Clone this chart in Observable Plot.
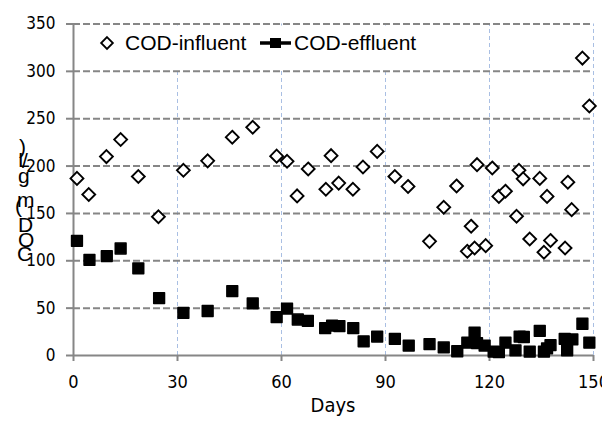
<!DOCTYPE html>
<html><head><meta charset="utf-8">
<script src="https://cdn.jsdelivr.net/npm/d3@7"></script>
<script src="https://cdn.jsdelivr.net/npm/@observablehq/plot@0.6"></script>
<style>
body{margin:0;background:#fff;}
#chart{width:602px;height:426px;}
</style></head><body><div id="chart"></div>
<script>
const infDays = [1,4.4,9.5,13.6,18.7,24.5,31.7,38.7,45.8,51.7,58.6,61.6,64.5,67.7,72.8,74.3,76.5,80.6,83.5,87.6,92.7,96.5,102.7,106.8,110.5,113.6,114.7,115.7,116.4,118.9,120.8,122.7,124.6,127.8,128.5,129.7,131.6,134.5,135.7,136.6,137.6,141.8,142.6,143.7,146.8,148.8];
const infVals = [187,170,210,228,189,146.5,195.5,205.5,230.5,241,210.5,205,168.5,197,175.5,211,182,175.5,199,215.5,189,178.5,120.5,156.5,179,110,136.5,113.5,201.5,116,198,168,173.5,147,195.5,186.5,123,187,109,168,121.5,113.5,183,154,314,263.5];
const effDays = [1,4.6,9.6,13.6,18.7,24.7,31.7,38.7,45.8,51.7,58.6,61.6,64.7,67.6,72.6,74.6,76.7,80.7,83.7,87.6,92.7,96.7,102.7,106.8,110.7,113.6,115.7,116.4,118.6,121.2,122.7,124.6,127.5,128.7,129.9,131.6,134.5,135.7,136.6,137.6,141.7,142.4,143.9,146.8,148.8];
const effVals = [121,101,105,113,92,60.5,45,47,68,55,40.5,49.5,38,36.5,29,31.5,31,29,15,20,17.5,10.5,12,8.5,4.5,13.5,24,13,10.5,4,3.5,13.5,5.5,20,19.5,4,26,4,7.5,11,17.5,5.5,17,33.5,13.5];
const xTicks = [0,30,60,90,120,150];
const yTicks = [0,50,100,150,200,250,300,350];
const seriesNames = ["COD-influent","COD-effluent"];
const xLabel = "Days";
const yLabel = "COD (mg/L)";

const influent = infDays.map((d,i)=>({day:d, cod:infVals[i]}));
const effluent = effDays.map((d,i)=>({day:d, cod:effVals[i]}));

const tickFont = '"Liberation Sans Narrow","DejaVu Sans Condensed",sans-serif';
const gray = "#868686";

const plot = Plot.plot({
  width:602, height:426,
  marginLeft:73, marginRight:9, marginTop:23.5, marginBottom:71,
  x:{domain:[0,150], ticks:xTicks},
  y:{domain:[0,350], ticks:yTicks},
  style:{background:"#fff", fontFamily:tickFont, fontSize:"17px", color:"#000", overflow:"visible"},
  marks:[
    Plot.ruleX(xTicks.slice(1), {y1:0, y2:350, stroke:"#a9bfe3", strokeWidth:1, strokeDasharray:"4,3"}),
    Plot.ruleY(yTicks.slice(1), {stroke:gray, strokeWidth:2, strokeDasharray:"7,3"}),
    Plot.axisY({ticks:yTicks, tickSize:7, tickPadding:11, stroke:gray, strokeWidth:2, fill:"#000", label:null, fontSize:17}),
    Plot.axisX({ticks:xTicks, tickSize:6, tickPadding:14, stroke:gray, strokeWidth:2, fill:"#000", label:null, fontSize:18}),
    Plot.ruleX([0], {y1:0, y2:350, stroke:gray, strokeWidth:2}),
    Plot.ruleY([0], {stroke:gray, strokeWidth:2}),
    Plot.dot(influent, {x:"day", y:"cod", symbol:"diamond2", r:5.8, fill:"#fff", stroke:"#000", strokeWidth:1.9}),
    Plot.dot(effluent, {x:"day", y:"cod", symbol:"square", r:6.1, fill:"#000", stroke:"#000", strokeWidth:1.5, strokeLinejoin:"round"})
  ]
});
document.getElementById("chart").appendChild(plot);

const svg = d3.select(plot);
const lf = '"Liberation Sans",Arial,sans-serif';
// legend
const lg = svg.append("g").attr("text-anchor","start");
lg.append("rect").attr("x",80).attr("y",25.5).attr("width",360).attr("height",43).attr("fill","#fff");
lg.append("path").attr("transform","translate(107,43)")
  .attr("d", d3.symbol(d3.symbolDiamond2, Math.PI*5.3*5.3)())
  .attr("fill","#fff").attr("stroke","#000").attr("stroke-width",1.8);
lg.append("text").attr("x",125).attr("y",50).attr("font-family",lf).attr("font-size",21).attr("fill","#000").text(seriesNames[0]);
lg.append("line").attr("x1",260).attr("x2",291).attr("y1",43).attr("y2",43).attr("stroke","#000").attr("stroke-width",3.5);
lg.append("rect").attr("x",270).attr("y",38).attr("width",11).attr("height",10).attr("fill","#000");
lg.append("text").attr("x",294).attr("y",50).attr("font-family",lf).attr("font-size",21).attr("fill","#000").text(seriesNames[1]);

// x label
svg.append("text").attr("x",333).attr("y",412).attr("text-anchor","middle")
  .attr("font-family",tickFont).attr("font-size",20).attr("fill","#000").text(xLabel);

// y label: stacked upright characters, reading bottom to top
const chars = yLabel.replace(/\s/g,"").split("");
const pos = [[17,261],[18,247],[18,232],[15,213],[17,207],[18,183],[22,168],[18,167],[19,154]];
const yl = svg.append("g").attr("text-anchor","start").attr("font-family",lf).attr("font-size",21).attr("fill","#000");
chars.forEach((c,i)=>{ yl.append("text").attr("x",pos[i][0]).attr("y",pos[i][1]).text(c); });
</script>
</body></html>
